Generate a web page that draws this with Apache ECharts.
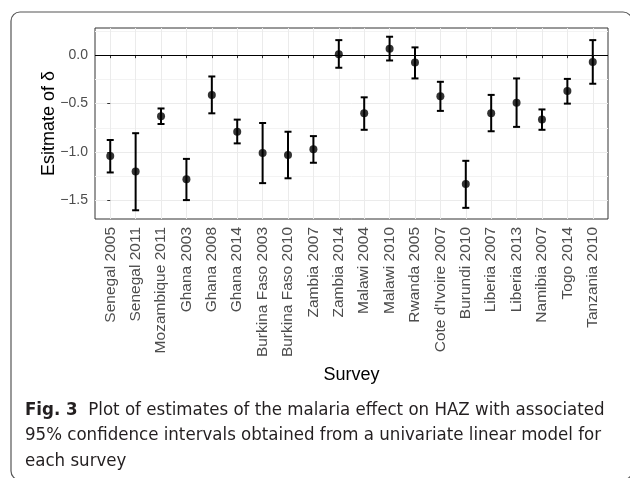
<!DOCTYPE html>
<html>
<head>
<meta charset="utf-8">
<script src="https://cdn.jsdelivr.net/npm/echarts@6/dist/echarts.min.js"></script>
<style>
  html, body { margin: 0; padding: 0; background: #fff; }
  #chart { width: 630px; height: 478px; }
</style>
</head>
<body>
<div id="chart"></div>
<script>
const categories = ['Senegal 2005', 'Senegal 2011', 'Mozambique 2011', 'Ghana 2003', 'Ghana 2008', 'Ghana 2014',
  'Burkina Faso 2003', 'Burkina Faso 2010', 'Zambia 2007', 'Zambia 2014', 'Malawi 2004', 'Malawi 2010',
  'Rwanda 2005', "Cote d'Ivoire 2007", 'Burundi 2010', 'Liberia 2007', 'Liberia 2013', 'Namibia 2007',
  'Togo 2014', 'Tanzania 2010'];
const estimate = [-1.04, -1.20, -0.63, -1.28, -0.41, -0.79, -1.01, -1.03, -0.97, 0.01, -0.60, 0.065, -0.075, -0.425, -1.33, -0.60, -0.49, -0.665, -0.37, -0.07];
const lower = [-1.21, -1.60, -0.71, -1.495, -0.60, -0.91, -1.32, -1.27, -1.11, -0.13, -0.77, -0.055, -0.24, -0.575, -1.575, -0.785, -0.74, -0.77, -0.50, -0.295];
const upper = [-0.875, -0.805, -0.55, -1.07, -0.22, -0.665, -0.70, -0.79, -0.835, 0.155, -0.435, 0.19, 0.08, -0.275, -1.09, -0.41, -0.24, -0.56, -0.245, 0.155];
const yTicks = [-1.5, -1.0, -0.5, 0.0];
const yMinorTicks = [-1.25, -0.75, -0.25, 0.25];
const caption = ['Plot of estimates of the malaria effect on HAZ with associated',
  '95% confidence intervals obtained from a univariate linear model for',
  'each survey'];

const xIdx = categories.map((c, i) => i);
const chart = echarts.init(document.getElementById('chart'), null, { renderer: 'canvas' });
const fontMain = '"Liberation Sans", Arial, Helvetica, sans-serif';
const fontCap = '"Liberation Sans Narrow", "DejaVu Sans Condensed", "Noto Sans", sans-serif';

const option = {
  backgroundColor: '#fff',
  animation: false,
  grid: { left: 95, top: 28, width: 513, height: 191, show: true, borderColor: '#333', borderWidth: 1, backgroundColor: '#fff' },
  xAxis: {
    type: 'value', min: -0.6, max: 19.6,
    name: 'Survey', nameLocation: 'middle', nameGap: 147, nameMoveOverlap: false,
    nameTextStyle: { fontFamily: fontMain, fontSize: 18, color: '#000' },
    axisLine: { show: false },
    axisTick: { show: true, customValues: xIdx, length: 3, lineStyle: { color: '#333', width: 1 } },
    axisLabel: { customValues: xIdx, rotate: 90, margin: 8, fontFamily: fontMain, fontSize: 15.5, color: '#4d4d4d',
      formatter: v => categories[Math.round(v)] },
    splitLine: { show: true, lineStyle: { color: '#ebebeb', width: 1 } }
  },
  yAxis: [{
    type: 'value', min: -1.69, max: 0.28,
    name: 'Esitmate of δ', nameLocation: 'middle', nameGap: 37, nameRotate: 90, nameMoveOverlap: false,
    nameTextStyle: { fontFamily: fontMain, fontSize: 18, color: '#000' },
    axisLine: { show: false },
    axisTick: { show: true, customValues: yTicks, length: 3, lineStyle: { color: '#333', width: 1 } },
    axisLabel: { customValues: yTicks, margin: 7, fontFamily: fontMain, fontSize: 14, color: '#4d4d4d',
      formatter: v => (v < 0 ? '\u2212' : '') + Math.abs(v).toFixed(1) },
    splitLine: { show: true, lineStyle: { color: '#ebebeb', width: 1 } }
  }, {
    type: 'value', min: -1.69, max: 0.28, position: 'left',
    axisLine: { show: false },
    axisTick: { show: false, customValues: yMinorTicks },
    axisLabel: { show: false, customValues: yMinorTicks },
    splitLine: { show: true, lineStyle: { color: '#f3f3f3', width: 1 } }
  }],
  series: [{
    type: 'custom',
    yAxisIndex: 0,
    encode: { x: 0, y: [1, 2] },
    data: xIdx.map(i => [i, lower[i], upper[i]]),
    renderItem: function (params, api) {
      const x = api.value(0);
      const pLo = api.coord([x, api.value(1)]);
      const pHi = api.coord([x, api.value(2)]);
      const hw = 3.5;
      const st = { stroke: '#000', lineWidth: 2 };
      return {
        type: 'group',
        children: [
          { type: 'line', shape: { x1: pLo[0], y1: pLo[1], x2: pHi[0], y2: pHi[1] }, style: st },
          { type: 'line', shape: { x1: pLo[0] - hw, y1: pLo[1], x2: pLo[0] + hw, y2: pLo[1] }, style: st },
          { type: 'line', shape: { x1: pHi[0] - hw, y1: pHi[1], x2: pHi[0] + hw, y2: pHi[1] }, style: st }
        ]
      };
    },
    z: 3
  }, {
    type: 'scatter',
    yAxisIndex: 0,
    data: xIdx.map(i => [i, estimate[i]]),
    symbol: 'circle', symbolSize: 8,
    itemStyle: { color: '#000' },
    z: 4,
    markLine: {
      silent: true, symbol: 'none', label: { show: false },
      lineStyle: { color: '#000', width: 1.2, type: 'solid' },
      data: [{ yAxis: 0 }]
    }
  }],
  graphic: [{
    type: 'rect', silent: true,
    shape: { x: 11, y: 12, width: 621, height: 468, r: 9 },
    style: { fill: 'none', stroke: '#555', lineWidth: 1.2 }
  }, {
    type: 'text', left: 25, top: 397, silent: true,
    style: {
      text: '{b|Fig. 3}  ' + caption[0] + '\n' + caption[1] + '\n' + caption[2],
      font: '18.5px ' + fontCap,
      fill: '#231f20',
      lineHeight: 25.5,
      rich: {
        b: { fontFamily: fontCap, fontWeight: 'bold', fontSize: 18.5, fill: '#231f20', lineHeight: 25.5 }
      }
    }
  }]
};
chart.setOption(option);
</script>
</body>
</html>
